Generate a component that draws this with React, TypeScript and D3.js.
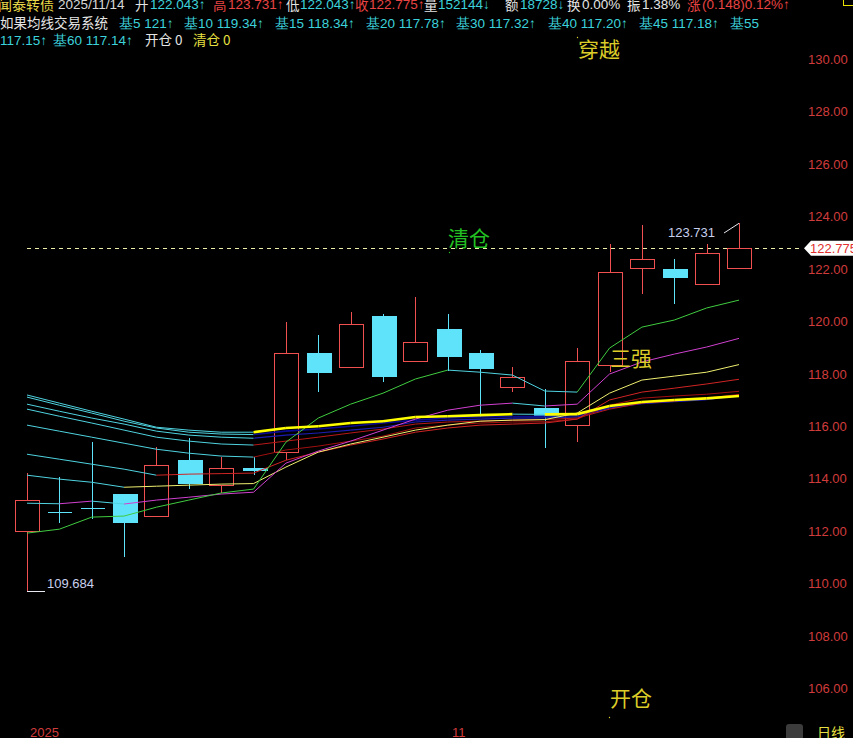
import React from "react";
import * as d3 from "d3";

// ---- data ----
const opens = [111.98, 112.70, 112.88, 113.40, 112.56, 114.69, 113.74, 114.39, 115.00, 118.78, 118.24, 120.19, 118.47, 119.69, 118.78, 117.48, 116.68, 116.03, 118.32, 122.02, 121.98, 121.41, 122.043];
const highs = [114.20, 114.05, 115.38, 113.42, 115.19, 115.53, 114.81, 114.81, 119.96, 119.47, 120.34, 120.27, 120.92, 120.27, 118.89, 118.24, 117.40, 118.97, 122.94, 123.68, 122.37, 122.94, 123.731];
const lows = [109.684, 112.29, 112.44, 110.99, 112.56, 113.59, 113.44, 114.12, 114.69, 117.29, 118.20, 117.67, 118.45, 118.09, 116.34, 117.29, 115.15, 115.38, 118.05, 121.03, 120.65, 121.41, 122.043];
const closes = [113.17, 112.66, 112.86, 112.29, 114.50, 113.78, 114.39, 114.27, 118.78, 118.02, 119.89, 117.86, 119.20, 118.63, 118.17, 117.86, 116.34, 118.47, 121.87, 122.37, 121.64, 122.60, 122.775];

const ma5 = [111.91, 112.06, 112.52, 112.56, 112.90, 113.17, 113.44, 113.59, 115.38, 116.30, 116.83, 117.25, 117.79, 118.13, 118.05, 117.94, 117.33, 117.29, 118.97, 119.77, 120.04, 120.50, 120.80];
const ma10 = [113.05, 113.03, 113.13, 113.02, 113.17, 113.28, 113.40, 113.47, 114.58, 115.04, 115.42, 115.84, 116.26, 116.60, 116.79, 116.87, 116.76, 116.83, 117.98, 118.44, 118.74, 119.01, 119.34];
const ma15 = [114.12, 113.97, 113.85, 113.66, 113.70, 113.74, 113.78, 113.80, 114.43, 115.00, 115.31, 115.57, 115.84, 116.03, 116.18, 116.22, 116.24, 116.49, 117.25, 117.75, 117.90, 118.05, 118.34];
const ma20 = [114.92, 114.73, 114.54, 114.35, 114.12, 114.16, 114.18, 114.20, 114.69, 115.00, 115.27, 115.50, 115.76, 115.92, 116.03, 116.07, 116.11, 116.26, 116.99, 117.29, 117.44, 117.60, 117.78];
const ma30 = [116.03, 115.80, 115.57, 115.34, 115.11, 114.96, 114.85, 114.81, 115.08, 115.23, 115.42, 115.61, 115.92, 116.03, 116.11, 116.15, 116.16, 116.26, 116.79, 117.06, 117.14, 117.21, 117.32];
const ma40 = [116.64, 116.37, 116.11, 115.84, 115.57, 115.42, 115.31, 115.27, 115.42, 115.57, 115.73, 115.88, 116.07, 116.15, 116.18, 116.22, 116.24, 116.30, 116.64, 116.87, 116.95, 117.06, 117.20];
const ma45 = [116.83, 116.56, 116.30, 116.07, 115.80, 115.65, 115.57, 115.53, 115.65, 115.73, 115.84, 115.95, 116.15, 116.22, 116.26, 116.30, 116.31, 116.34, 116.68, 116.85, 116.93, 117.00, 117.18];
const ma55 = [117.10, 116.79, 116.49, 116.18, 115.92, 115.76, 115.69, 115.67, 115.80, 115.88, 115.99, 116.11, 116.22, 116.30, 116.34, 116.36, 116.37, 116.39, 116.72, 116.87, 116.95, 117.02, 117.15];
const ma60 = [117.18, 116.87, 116.56, 116.26, 115.95, 115.84, 115.76, 115.76, 115.92, 115.99, 116.11, 116.18, 116.34, 116.37, 116.41, 116.45, 116.44, 116.45, 116.76, 116.91, 116.99, 117.05, 117.14];

const yTicks = [106, 108, 110, 112, 114, 116, 118, 120, 122, 124, 126, 128, 130];
const lastClose = 122.775;
const maxHigh = 123.731;
const minLow = 109.684;

const UP = "#f05050";
const DOWN = "#5fe3fa";
const FALL = "#4fd3e0";

const maList = [
  { values: ma55, color: "#0a0a90", width: 1.6 },
  { values: ma45, color: "#1c1cb0", width: 1.2 },
  { values: ma40, color: "#b81818", width: 1 },
  { values: ma30, color: "#a01010", width: 1 },
  { values: ma20, color: "#d02424", width: 1 },
  { values: ma15, color: "#f0f070", width: 1 },
  { values: ma10, color: "#d040d0", width: 1 },
  { values: ma5, color: "#40cc40", width: 1 },
  { values: ma60, color: "#ffff00", width: 2.6 },
];

const W = 853;
const H = 738;

export default function App() {
  const n = closes.length;
  const x = d3.scaleLinear().domain([0, n - 1]).range([27, 739]);
  const y = d3.scaleLinear().domain([106, 130]).range([688, 59]);
  const bw = 24;
  const cjk = "'Noto Sans CJK SC', sans-serif";
  const num = "'Liberation Sans', Arial, sans-serif";

  const candles = d3.range(n).map((i) => {
    const o = opens[i], c = closes[i], h = highs[i], l = lows[i];
    const cx = Math.round(x(i)) + 0.5;
    const top = Math.round(y(Math.max(o, c)));
    const bot = Math.round(y(Math.min(o, c)));
    const up = c >= o;
    const yh = Math.round(y(h));
    const yl = Math.round(y(l));
    if (up) {
      return (
        <g key={i} shapeRendering="crispEdges">
          <line x1={cx} x2={cx} y1={yh} y2={top} stroke={UP} />
          <line x1={cx} x2={cx} y1={bot} y2={yl} stroke={UP} />
          <rect x={cx - bw / 2} y={top + 0.5} width={bw} height={Math.max(1, bot - top)} fill="#000" stroke={UP} />
        </g>
      );
    }
    const hgt = bot - top;
    return (
      <g key={i} shapeRendering="crispEdges">
        <line x1={cx} x2={cx} y1={yh} y2={yl} stroke={DOWN} />
        {hgt < 2 ? (
          <line x1={cx - bw / 2} x2={cx + bw / 2} y1={top + 0.5} y2={top + 0.5} stroke={DOWN} />
        ) : (
          <rect x={cx - bw / 2} y={top} width={bw + 1} height={hgt} fill={DOWN} />
        )}
      </g>
    );
  });

  const maLines = maList.map((m, k) => (
    <g key={k}>
      {d3.range(n - 1).map((i) => {
        const falling = m.values[i + 1] <= m.values[i];
        return (
          <line
            key={i}
            x1={x(i)}
            y1={y(m.values[i])}
            x2={x(i + 1)}
            y2={y(m.values[i + 1])}
            stroke={falling ? FALL : m.color}
            strokeWidth={falling ? 1 : m.width}
          />
        );
      })}
    </g>
  ));

  const cyanTxt = "#3cd2dc";
  const white = "#e4e4e4";
  const red = "#e84444";
  const hdr = (xx: number, yy: number, t: string, col: string, fam = num, fs = 13.5) => (
    <text x={xx} y={yy} fill={col} fontFamily={fam} fontSize={fs}>{t}</text>
  );

  const yl = y(lastClose);

  return (
    <svg
      width={W}
      height={H}
      style={{ position: "fixed", left: 0, top: 0, background: "#000", display: "block" }}
    >
      <rect x={0} y={0} width={W} height={H} fill="#000" />

      {/* header line 1 */}
      {hdr(-2, 10, "闻泰转债", "#e8d848", cjk, 14)}
      {hdr(58, 9, "2025/11/14", "#d8d8d8")}
      {hdr(135, 10, "开", white, cjk)}
      {hdr(150, 9, "122.043↑", cyanTxt)}
      {hdr(213, 10, "高", red, cjk)}
      {hdr(228, 9, "123.731↑", red)}
      {hdr(286, 10, "低", white, cjk)}
      {hdr(300, 9, "122.043↑", cyanTxt)}
      {hdr(355, 10, "收", red, cjk)}
      {hdr(369, 9, "122.775↑", red)}
      {hdr(424, 10, "量", white, cjk)}
      {hdr(438, 9, "152144↓", cyanTxt)}
      {hdr(505, 10, "额", white, cjk)}
      {hdr(520, 9, "18728↓", cyanTxt)}
      {hdr(567, 10, "换", white, cjk)}
      {hdr(582, 9, "0.00%", white)}
      {hdr(627, 10, "振", white, cjk)}
      {hdr(642, 9, "1.38%", white)}
      {hdr(687, 10, "涨", red, cjk)}
      {hdr(702, 9, "(0.148)0.12%↑", red)}
      <rect x={843.5} y={-10.5} width={20} height={16} fill="none" stroke="#e8e000" />

      {/* header line 2 */}
      {hdr(0, 28, "如果均线交易系统", white, cjk, 13.5)}
      {hdr(119, 28, "基5 121↑", cyanTxt)}
      {hdr(184, 28, "基10 119.34↑", cyanTxt)}
      {hdr(275, 28, "基15 118.34↑", cyanTxt)}
      {hdr(366, 28, "基20 117.78↑", cyanTxt)}
      {hdr(456, 28, "基30 117.32↑", cyanTxt)}
      {hdr(548, 28, "基40 117.20↑", cyanTxt)}
      {hdr(639, 28, "基45 117.18↑", cyanTxt)}
      {hdr(730, 28, "基55", cyanTxt)}

      {/* header line 3 */}
      {hdr(0, 45, "117.15↑", cyanTxt)}
      {hdr(53, 45, "基60 117.14↑", cyanTxt)}
      {hdr(145, 45, "开仓 0", white, cjk)}
      {hdr(193, 45, "清仓 0", "#e8e040", cjk)}

      {/* y axis labels */}
      {yTicks.map((t) => (
        <text key={t} x={808} y={y(t) + 5} fill="#d03c3c" fontFamily={num} fontSize={13}>
          {t.toFixed(2)}
        </text>
      ))}

      {/* last price dashed line */}
      <line x1={27} x2={800} y1={Math.round(yl) + 0.5} y2={Math.round(yl) + 0.5} stroke="#eeeeaa" strokeDasharray="4,4" />
      <polygon
        points={`804,${yl} 811,${yl - 7.5} 853,${yl - 7.5} 853,${yl + 7.5} 811,${yl + 7.5}`}
        fill="#ffffff"
      />
      <text x={810} y={yl + 5} fill="#e03030" fontFamily={num} fontSize={13}>{lastClose.toFixed(3)}</text>

      {candles}
      {maLines}

      {/* extreme labels */}
      <line x1={724} y1={233} x2={x(n - 1)} y2={y(maxHigh)} stroke="#e8e8f0" />
      <text x={668} y={237} fill="#c8d0ee" fontFamily={num} fontSize={13}>{maxHigh.toFixed(3)}</text>
      <line x1={x(0)} x2={45} y1={Math.round(y(minLow)) + 0.5} y2={Math.round(y(minLow)) + 0.5} stroke="#e8e8f0" shapeRendering="crispEdges" />
      <text x={47} y={588} fill="#c8d0ee" fontFamily={num} fontSize={13}>{minLow.toFixed(3)}</text>

      {/* signal annotations */}
      <text x={578} y={57} fill="#dccc28" fontFamily={cjk} fontSize={21}>穿越</text>
      <circle cx={577.5} cy={37.5} r={0.7} fill="#dccc28" />
      <text x={448} y={246} fill="#22c022" fontFamily={cjk} fontSize={21}>清仓</text>
      <circle cx={449.5} cy={252.5} r={0.7} fill="#22c022" />
      <text x={610} y={366} fill="#dccc28" fontFamily={cjk} fontSize={21}>三强</text>
      <text x={610} y={706} fill="#dccc28" fontFamily={cjk} fontSize={21}>开仓</text>
      <circle cx={609.5} cy={717.5} r={0.7} fill="#dccc28" />

      {/* bottom axis */}
      <text x={30} y={737} fill="#d03c3c" fontFamily={num} fontSize={13}>2025</text>
      <text x={452} y={737} fill="#d03c3c" fontFamily={num} fontSize={13}>11</text>
      <rect x={786} y={724} width={17} height={18} rx={3} fill="#3c3c3c" />
      <text x={817} y={738} fill="#e8e040" fontFamily={cjk} fontSize={14}>日线</text>
    </svg>
  );
}
